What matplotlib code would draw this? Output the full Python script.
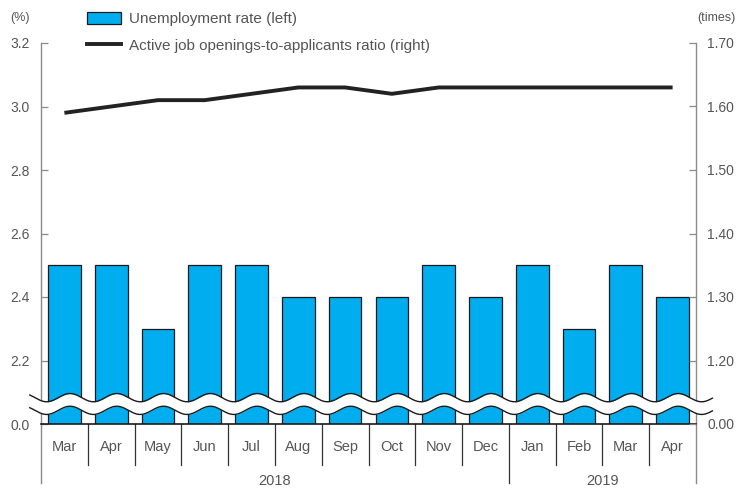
import numpy as np
import matplotlib
matplotlib.use("Agg")
import matplotlib.pyplot as plt
from matplotlib.patches import Patch
from matplotlib.lines import Line2D

plt.rcParams['font.family'] = ['Liberation Sans', 'DejaVu Sans']

months = ["Mar", "Apr", "May", "Jun", "Jul", "Aug", "Sep", "Oct", "Nov", "Dec",
          "Jan", "Feb", "Mar", "Apr"]
years = ["2018", "2019"]
year_spans = [(0, 9), (10, 13)]
unemployment = [2.5, 2.5, 2.3, 2.5, 2.5, 2.4, 2.4, 2.4, 2.5, 2.4, 2.5, 2.3, 2.5, 2.4]
job_ratio = [1.59, 1.60, 1.61, 1.61, 1.62, 1.63, 1.63, 1.62, 1.63, 1.63, 1.63, 1.63, 1.63, 1.63]

left_ticks = [2.0, 2.2, 2.4, 2.6, 2.8, 3.0, 3.2]
left_labels = ["0.0", "2.2", "2.4", "2.6", "2.8", "3.0", "3.2"]
right_ticks = [1.10, 1.20, 1.30, 1.40, 1.50, 1.60, 1.70]
right_labels = ["0.00", "1.20", "1.30", "1.40", "1.50", "1.60", "1.70"]

grey = "#555555"
spine_c = "#8a8a8a"

fig = plt.figure(figsize=(7.44, 4.88), dpi=100)
ax = fig.add_axes([41 / 744, 1 - 424 / 488, (696 - 41) / 744, (424 - 43) / 488])
ax2 = ax.twinx()

x = np.arange(len(months))
ax.bar(x, np.array(unemployment) - 2.0, bottom=2.0, width=0.7, color="#00aeef",
       edgecolor="#1a1a1a", linewidth=0.9, zorder=2)
ax2.plot(x, job_ratio, color="#222222", linewidth=2.8, solid_capstyle="butt", zorder=3)

ax.set_xlim(-0.5, len(months) - 0.5)
ax.set_ylim(2.0, 3.2)
ax2.set_ylim(1.10, 1.70)

ax.set_yticks(left_ticks)
ax.set_yticklabels(left_labels)
ax2.set_yticks(right_ticks)
ax2.set_yticklabels(right_labels)
for a in (ax, ax2):
    a.tick_params(axis="y", direction="in", length=5, width=0.9, color=spine_c,
                  labelcolor=grey, labelsize=10, pad=8)
    for s in a.spines.values():
        s.set_visible(False)
ax.set_xticks([])

# axis lines (left/right extend into the category area)
trans = ax.get_xaxis_transform()
for xv in (-0.5, len(months) - 0.5):
    ax.plot([xv, xv], [1.0, -0.155], color=spine_c, lw=1.0, transform=trans, clip_on=False)
ax.plot([-0.5, len(months) - 0.5], [0, 0], color="#1a1a1a", lw=1.2, transform=trans,
        clip_on=False, zorder=4)

# category separators
for i in range(1, len(months)):
    bottom = -0.155 if i == year_spans[1][0] else -0.108
    ax.plot([i - 0.5, i - 0.5], [0, bottom], color="#333333", lw=0.9, transform=trans,
            clip_on=False)
for i, m in enumerate(months):
    ax.text(i, -0.06, m, transform=trans, ha="center", va="center", fontsize=10.5, color=grey)
for yr, (a0, a1) in zip(years, year_spans):
    ax.text((a0 + a1) / 2, -0.15, yr, transform=trans, ha="center", va="center",
            fontsize=10.5, color=grey)

# axis break wave
wx = np.linspace(-0.74, len(months) - 0.5 + 0.35, 600)
amp = 0.013
w_top = 2.083 + amp * np.cos(2 * np.pi * (wx - 0.12))
w_bot = 2.043 + amp * np.cos(2 * np.pi * (wx - 0.12))
ax.fill_between(wx, w_bot, w_top, color="white", zorder=5, clip_on=False, lw=0)
ax.plot(wx, w_top, color="#1a1a1a", lw=1.0, zorder=6, clip_on=False)
ax.plot(wx, w_bot, color="#1a1a1a", lw=1.0, zorder=6, clip_on=False)

# unit labels
fig.text(20 / 744, 1 - 18 / 488, "(%)", ha="center", va="center", fontsize=9, color=grey)
fig.text(716 / 744, 1 - 18 / 488, "(times)", ha="center", va="center", fontsize=9, color=grey)

handles = [Patch(facecolor="#00aeef", edgecolor="#1a1a1a", linewidth=0.9),
           Line2D([0], [0], color="#222222", lw=2.8)]
fig.legend(handles, ["Unemployment rate (left)", "Active job openings-to-applicants ratio (right)"],
           loc="upper left", bbox_to_anchor=(81 / 744, 1 - 6 / 488), frameon=False,
           fontsize=11, labelcolor=grey, handlelength=2.2, handleheight=0.85,
           handletextpad=0.55, labelspacing=0.8, borderaxespad=0)

fig.savefig("out.png", dpi=100)
